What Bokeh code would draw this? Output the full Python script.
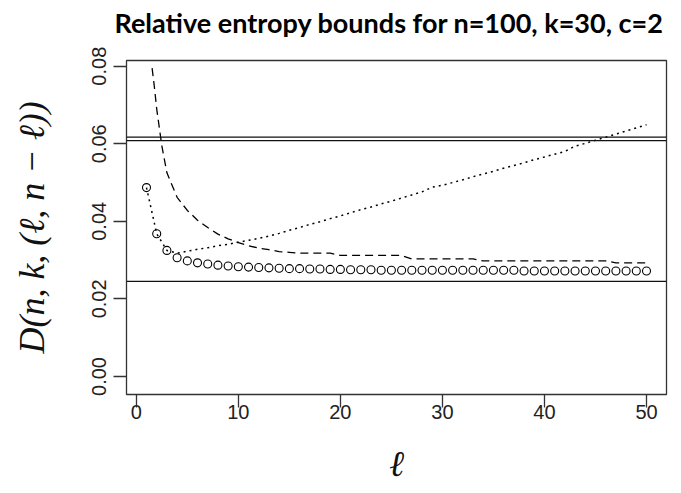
from bokeh.plotting import figure
from bokeh.models import FixedTicker, Span, Range1d, PrintfTickFormatter, Title
from bokeh.embed import file_html
from bokeh.resources import INLINE

# ---- data ----
ell = list(range(1, 51))
circles = [0.0487, 0.0368, 0.0325, 0.0306, 0.0298, 0.0293, 0.0290, 0.0287, 0.0285, 0.0283,
           0.0282, 0.0281, 0.0280, 0.0279, 0.0278, 0.0278, 0.0277, 0.0277, 0.0276, 0.0276,
           0.0275, 0.0275, 0.0275, 0.0274, 0.0274, 0.0274, 0.0274, 0.0274, 0.0274, 0.0274,
           0.0274, 0.0274, 0.0274, 0.0274, 0.0274, 0.0274, 0.0274, 0.0272, 0.0272, 0.0272,
           0.0272, 0.0272, 0.0272, 0.0272, 0.0272, 0.0272, 0.0272, 0.0272, 0.0272, 0.0272]
dotted = [0.0487, 0.0368, 0.0325, 0.0318, 0.0323, 0.0328, 0.0332, 0.0337, 0.0341, 0.0346,
          0.0351, 0.0356, 0.0362, 0.0369, 0.0377, 0.0384, 0.0392, 0.0399, 0.0407, 0.0414,
          0.0422, 0.0430, 0.0437, 0.0445, 0.0452, 0.0460, 0.0468, 0.0476, 0.0488, 0.0493,
          0.0500, 0.0507, 0.0515, 0.0522, 0.0529, 0.0537, 0.0544, 0.0551, 0.0559, 0.0566,
          0.0573, 0.0580, 0.0594, 0.0601, 0.0609, 0.0617, 0.0625, 0.0633, 0.0641, 0.0649]
dash_ell = [1.55, 1.75, 2, 2.5, 3, 4, 5, 6, 7, 8, 9, 10, 11, 12, 13, 14, 15, 16, 17, 18, 19,
            20, 21, 22, 23, 24, 25, 26, 27, 28, 29, 30, 31, 32, 33, 34, 35, 36, 37, 38, 39,
            40, 41, 42, 43, 44, 45, 46, 47, 48, 49, 50]
dash_val = [0.0795, 0.0752, 0.0690, 0.0595, 0.0525, 0.0462, 0.0428, 0.0403, 0.0384, 0.0367,
            0.0355, 0.0345, 0.0337, 0.0331, 0.0327, 0.0322, 0.0320, 0.0318, 0.0318, 0.0318,
            0.0318, 0.0312, 0.0312, 0.0312, 0.0312, 0.0312, 0.0312, 0.0312, 0.0303, 0.0303,
            0.0303, 0.0303, 0.0303, 0.0303, 0.0303, 0.0298, 0.0298, 0.0298, 0.0298, 0.0298,
            0.0298, 0.0298, 0.0298, 0.0298, 0.0298, 0.0298, 0.0298, 0.0298, 0.0293, 0.0293,
            0.0293, 0.0293]
hlines = [0.0617, 0.0608, 0.0245]
xticks = [0, 10, 20, 30, 40, 50]
yticks = [0.0, 0.02, 0.04, 0.06, 0.08]

title_text = "Relative entropy bounds for n=100, k=30, c=2"
ylab = "D(n, k, (\u2113, n \u2212 \u2113))"
xlab = "\u2113"

p = figure(width=673, height=491, output_backend="svg", toolbar_location=None,
           x_range=Range1d(-0.96, 51.96), y_range=Range1d(-0.00465, 0.08147),
           min_border_left=126, min_border_right=7, min_border_top=60,
           min_border_bottom=97)

p.background_fill_color = "white"
p.border_fill_color = "white"
p.grid.visible = False
p.outline_line_color = "#333333"
p.outline_line_width = 1.3

# spacer (nearest the frame), then the real title above it
p.add_layout(Title(text=" ", text_font_size="9px", align="center"), "above")
p.add_layout(Title(text=title_text, text_font="Lato", text_font_style="bold",
                   text_font_size="27px", align="left", offset=-12, text_color="black",
                   standoff=0), "above")

for ax in (p.xaxis[0], p.yaxis[0]):
    ax.axis_line_color = None
    ax.major_tick_in = 0
    ax.major_tick_out = 13
    ax.major_tick_line_color = "#333333"
    ax.major_tick_line_width = 1.3
    ax.minor_tick_line_color = None
    ax.major_label_text_font = "Liberation Sans"
    ax.major_label_text_font_size = "20px"
    ax.major_label_text_color = "#222222"
    ax.axis_label_text_font = "Liberation Serif"
    ax.axis_label_text_font_style = "italic"
    ax.axis_label_text_color = "#111111"

p.xaxis.ticker = FixedTicker(ticks=xticks)
p.yaxis.ticker = FixedTicker(ticks=yticks)
p.yaxis.formatter = PrintfTickFormatter(format="%.2f")
p.yaxis.major_label_orientation = "vertical"
p.yaxis.major_label_standoff = 7
p.xaxis.major_label_standoff = -3

p.yaxis.axis_label = ylab
p.yaxis.axis_label_text_font_size = "36px"
p.yaxis.axis_label_standoff = 38
p.xaxis.axis_label = xlab
p.xaxis.axis_label_text_font_size = "36px"
p.xaxis.axis_label_standoff = 22

for h in hlines:
    p.add_layout(Span(location=h, dimension="width", line_color="#111111", line_width=1.3))

p.line(dash_ell, dash_val, line_color="black", line_width=1.3, line_dash="8 5")
p.line(ell, dotted, line_color="black", line_width=1.5, line_dash="2 4")
p.scatter(ell, circles, marker="circle", size=8, fill_color=None,
          line_color="black", line_width=1.1)

open("out.html", "w").write(file_html(p, INLINE))
